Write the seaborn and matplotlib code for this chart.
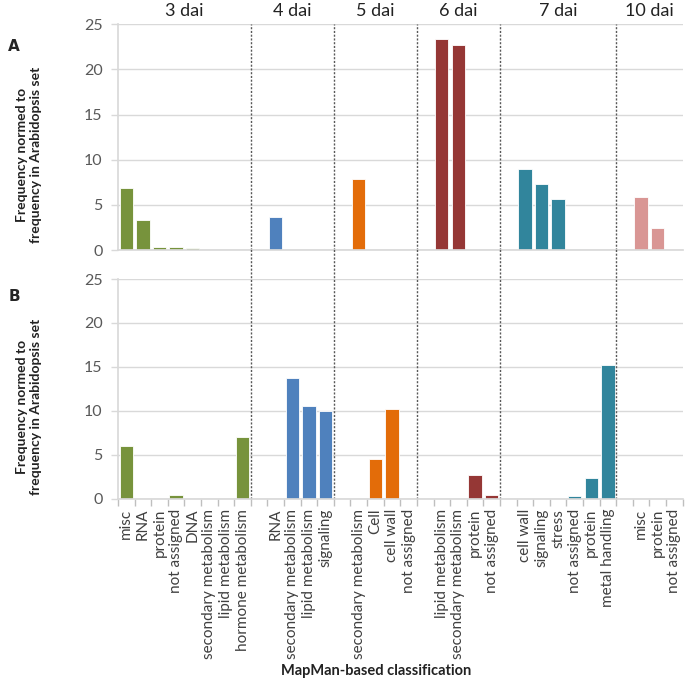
import numpy as np
import pandas as pd
import matplotlib.pyplot as plt
import seaborn as sns

# Data
groups = ["3 dai", "4 dai", "5 dai", "6 dai", "7 dai", "10 dai"]
colors = ["#77933C", "#4F81BD", "#E36C09", "#953735", "#31859C", "#D99694"]

cats_3 = ["misc", "RNA", "protein", "not assigned", "DNA", "secondary metabolism",
          "lipid metabolism", "hormone metabolism"]
cats_4 = ["RNA", "secondary metabolism", "lipid metabolism", "signaling"]
cats_5 = ["secondary metabolism", "Cell", "cell wall", "not assigned"]
cats_6 = ["lipid metabolism", "secondary metabolism", "protein", "not assigned"]
cats_7 = ["cell wall", "signaling", "stress", "not assigned", "protein", "metal handling"]
cats_10 = ["misc", "protein", "not assigned"]

# panel A
vals_A_3 = [6.9, 3.3, 0.3, 0.3, 0.2, 0, 0, 0]
vals_A_4 = [3.6, 0, 0, 0]
vals_A_5 = [7.85, 0, 0, 0]
vals_A_6 = [23.4, 22.7, 0, 0]
vals_A_7 = [9.0, 7.3, 5.6, 0.15, 0, 0]
vals_A_10 = [5.9, 2.4, 0.1]

# panel B
vals_B_3 = [6.0, 0, 0, 0.45, 0, 0, 0, 7.1]
vals_B_4 = [0, 13.75, 10.6, 10.0]
vals_B_5 = [0, 4.5, 10.2, 0.1]
vals_B_6 = [0, 0, 2.7, 0.45]
vals_B_7 = [0, 0, 0, 0.35, 2.4, 15.2]
vals_B_10 = [0, 0, 0]

all_cats = [cats_3, cats_4, cats_5, cats_6, cats_7, cats_10]
all_A = [vals_A_3, vals_A_4, vals_A_5, vals_A_6, vals_A_7, vals_A_10]
all_B = [vals_B_3, vals_B_4, vals_B_5, vals_B_6, vals_B_7, vals_B_10]

# Build long table; an empty slot separates each group (Excel style)
rows = []
order = []
labels = []
for i, (g, cats) in enumerate(zip(groups, all_cats)):
    if i > 0:
        order.append(f"gap{i}")
        labels.append("")
    for c, a, b in zip(cats, all_A[i], all_B[i]):
        key = f"{g}|{c}"
        rows.append({"key": key, "dai": g, "freq_A": a, "freq_B": b})
        order.append(key)
        labels.append(c)
df = pd.DataFrame(rows)
palette = dict(zip(groups, colors))

# group boundaries and centers (in slot coordinates)
bounds = [-0.5]
pos = 0
for i, cats in enumerate(all_cats):
    if i > 0:
        pos += 1
    pos += len(cats)
    bounds.append(pos - 0.5)
seps = bounds[1:-1]
centers = [(bounds[i] + bounds[i + 1]) / 2 for i in range(len(groups))]

sns.set_theme(style="white")
plt.rcParams["font.family"] = ["Lato", "DejaVu Sans"]

fig = plt.figure(figsize=(6.98, 6.84), dpi=100)
axA = fig.add_axes([0.169, 0.6345, 0.809, 0.330])
axB = fig.add_axes([0.169, 0.2705, 0.809, 0.3216])

for ax, col in [(axA, "freq_A"), (axB, "freq_B")]:
    sns.barplot(data=df, x="key", y=col, hue="dai", order=order, palette=palette,
                saturation=1, width=0.8, edgecolor="white", linewidth=0.6,
                errorbar=None, legend=False, ax=ax)
    ax.set_xlim(-0.5, len(order) - 0.5)
    ax.set_ylim(0, 25)
    ax.set_yticks(range(0, 26, 5))
    ax.yaxis.grid(True, color="#d9d9d9", lw=1)
    ax.set_axisbelow(True)
    for s in ["top", "right"]:
        ax.spines[s].set_visible(False)
    ax.spines["left"].set_color("#d9d9d9")
    ax.spines["bottom"].set_color("#d9d9d9")
    ax.tick_params(axis="y", left=True, length=5, width=1, color="#d9d9d9",
                   labelsize=11.5, labelcolor="#595959", pad=6)
    ax.set_xlabel("")
    ax.set_ylabel("Frequency normed to\nfrequency in Arabidopsis set",
                  fontsize=10, fontweight="bold", color="#222222")
    ax.yaxis.set_label_coords(-0.135, 0.42)
    ax.set_xticks(range(len(order)))

axA.set_xticklabels([])
axA.tick_params(axis="x", length=0)
axB.set_xticklabels(labels, rotation=90, fontsize=11, color="#404040")
axB.tick_params(axis="x", which="major", length=0, pad=7)
axB.set_xticks(np.arange(-0.5, len(order), 1), minor=True)
axB.tick_params(axis="x", which="minor", length=5, color="#bfbfbf", width=1, bottom=True)

# dotted group separators spanning both panels
for x in seps:
    axA.axvline(x, color="#595959", ls=(0, (1.5, 1.2)), lw=1)
    axB.axvline(x, ymin=0, ymax=1.135, color="#595959", ls=(0, (1.5, 1.2)), lw=1,
                clip_on=False)

for g, c in zip(groups, centers):
    axA.text(c, 25.6, g, ha="center", va="bottom", fontsize=13, color="#222222")

fig.text(0.012, 0.925, "A", fontsize=11, fontweight="bold", family="DejaVu Sans")
fig.text(0.012, 0.56, "B", fontsize=11, fontweight="bold", family="DejaVu Sans")
fig.text(0.539, 0.019, "MapMan-based classification", ha="center", va="center",
         fontsize=10.5, fontweight="bold", color="#222222")

plt.savefig("out.png", dpi=100)
